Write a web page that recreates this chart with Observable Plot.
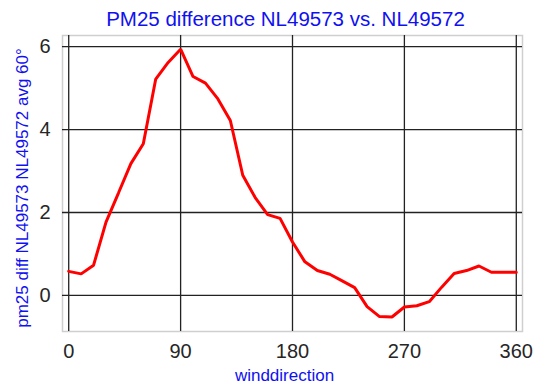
<!DOCTYPE html>
<html>
<head>
<meta charset="utf-8">
<script src="https://cdn.jsdelivr.net/npm/d3@7"></script>
<script src="https://cdn.jsdelivr.net/npm/@observablehq/plot@0.6"></script>
<style>
  html, body { margin: 0; padding: 0; background: #fff; }
  #chart svg { display: block; overflow: visible; font-family: "Liberation Sans", Arial, sans-serif; }
</style>
</head>
<body>
<div id="chart"></div>
<script>
// PM2.5 difference between two stations, binned by wind direction (10° steps)
const windDirection = [0, 10, 20, 30, 40, 50, 60, 70, 80, 90, 100, 110, 120, 130, 140, 150, 160, 170, 180,
  190, 200, 210, 220, 230, 240, 250, 260, 270, 280, 290, 300, 310, 320, 330, 340, 350, 360];
const pm25Diff = [0.58, 0.52, 0.73, 1.77, 2.47, 3.18, 3.66, 5.22, 5.62, 5.94, 5.28, 5.12, 4.74, 4.22, 2.90,
  2.36, 1.95, 1.86, 1.29, 0.81, 0.60, 0.51, 0.35, 0.19, -0.27, -0.51, -0.52, -0.28, -0.25, -0.15, 0.20,
  0.53, 0.60, 0.71, 0.56, 0.56, 0.56];
const xTicks = [0, 90, 180, 270, 360];
const yTicks = [0, 2, 4, 6];

const titleText = "PM25 difference NL49573 vs. NL49572";
const xLabel = "winddirection";
const yLabel = "pm25 diff NL49573 NL49572 avg 60°";

const rows = windDirection.map((d, i) => ({dir: d, diff: pm25Diff[i]}));
const blue = "#1010f0";
const ink = "#262626";

const chart = Plot.plot({
  width: 534,
  height: 385,
  marginLeft: 62,
  marginRight: 12,
  marginTop: 35,
  marginBottom: 54,
  x: {domain: [-5, 365]},
  y: {domain: [-0.87, 6.27]},
  marks: [
    Plot.frame({stroke: "#cfcfcf", strokeWidth: 1.5}),
    Plot.gridX(xTicks, {stroke: "#222", strokeOpacity: 1, strokeWidth: 1.3}),
    Plot.gridY(yTicks, {stroke: "#222", strokeOpacity: 1, strokeWidth: 1.3}),
    Plot.lineY(rows, {x: "dir", y: "diff", stroke: "#ff0000", strokeWidth: 3, strokeLinejoin: "miter"}),
    Plot.axisX(xTicks, {tickSize: 0, tickPadding: 12, fontSize: 20, color: ink, label: null}),
    Plot.axisY(yTicks, {tickSize: 0, tickPadding: 12, fontSize: 20, color: ink, label: null}),
    Plot.text([titleText], {frameAnchor: "top", textAnchor: "middle", dx: -7, dy: -16, lineAnchor: "middle",
      fontSize: 20.5, fill: blue}),
    Plot.text([xLabel], {frameAnchor: "bottom", textAnchor: "middle", dx: -8, dy: 44, lineAnchor: "middle",
      fontSize: 17, fill: blue}),
    Plot.text([yLabel], {frameAnchor: "left", textAnchor: "middle", rotate: -90, dx: -40, dy: 4.5,
      lineAnchor: "middle", fontSize: 17, fill: blue})
  ]
});

document.getElementById("chart").append(chart);
</script>
</body>
</html>
